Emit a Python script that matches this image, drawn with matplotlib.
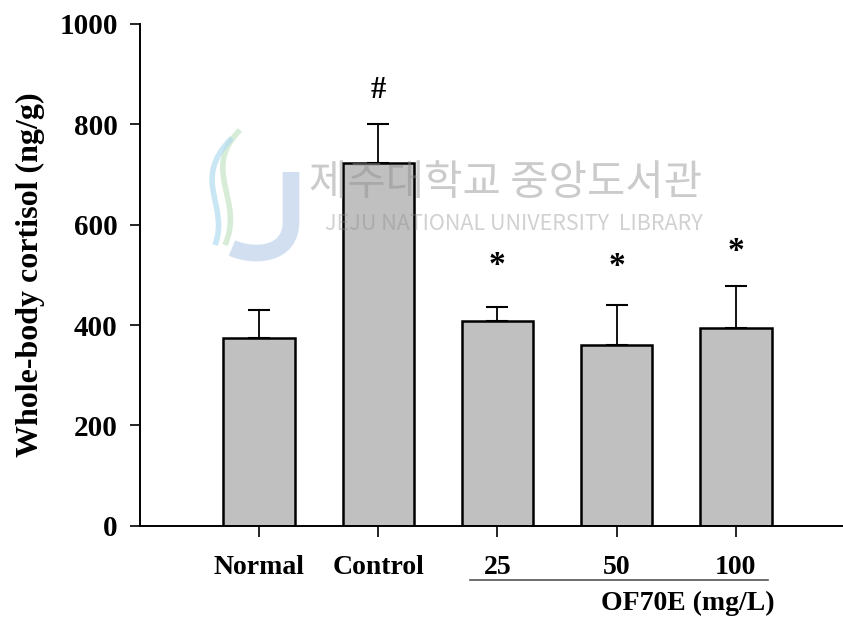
import matplotlib
matplotlib.use("Agg")
import matplotlib.pyplot as plt
from matplotlib.transforms import blended_transform_factory
from matplotlib.path import Path
from matplotlib.patches import PathPatch

# Whole-body cortisol by treatment group (mean + SE)
groups = ["Normal", "Control", "25", "50", "100"]
cortisol_mean = [374, 722, 409, 360, 395]
cortisol_se = [55, 78, 27, 80, 83]
marks = ["", "#", "*", "*", "*"]
mark_heights = [0, 868, 518, 516, 546]
y_ticks = [0, 200, 400, 600, 800, 1000]

serif = ["Liberation Serif", "DejaVu Serif"]
plt.rcParams["font.family"] = serif
plt.rcParams["font.weight"] = "bold"

fig = plt.figure(figsize=(8.43, 6.17), dpi=100)
ax = fig.add_axes([140 / 843, 1 - 525.7 / 617, 1 - 140 / 843, (525.7 - 24) / 617])

x = list(range(len(groups)))
ax.bar(x, cortisol_mean, width=0.6, color="#c0c0c0", edgecolor="black",
       linewidth=1.8, zorder=2)
ax.errorbar(x, cortisol_mean, yerr=[[0] * len(x), cortisol_se], fmt="none",
            ecolor="black", elinewidth=1.3, capsize=8, capthick=1.5, zorder=3)

for xi, m, h in zip(x, marks, mark_heights):
    if m:
        ax.text(xi, h, m, ha="center", va="center",
                fontsize=22 if m == "#" else 24, fontweight="bold", family=serif)

ax.set_xlim(-1, 4.9)
ax.set_ylim(0, 1000)
ax.set_yticks(y_ticks)
ax.set_xticks(x)
ax.set_xticklabels(groups)
ax.tick_params(axis="y", direction="out", length=7, width=1.2, labelsize=21, pad=9)
ax.tick_params(axis="x", direction="out", length=8, width=1.2, labelsize=20, pad=13)
for lab in ax.get_xticklabels() + ax.get_yticklabels():
    lab.set_fontweight("bold")

for side in ("top", "right"):
    ax.spines[side].set_visible(False)
for side in ("left", "bottom"):
    ax.spines[side].set_linewidth(1.4)

ax.set_ylabel("Whole-body cortisol (ng/g)", fontsize=23, fontweight="bold", labelpad=10)

# Dose group bracket and label
trans = blended_transform_factory(ax.transData, ax.transAxes)
ax.plot([1.77, 4.27], [-0.108, -0.108], color="#555555", linewidth=1.2,
        transform=trans, clip_on=False)
ax.text(4.33, -0.154, "OF70E (mg/L)", ha="right", va="center", fontsize=20,
        fontweight="bold", transform=trans)

# Library watermark: emblem strokes and name
px = fig.transFigure.inverted()


def to_fig(pts):
    return [tuple(px.transform((u, 617 - v))) for u, v in pts]


j_path = Path(to_fig([(291, 172), (291, 222), (291, 255), (255, 258), (232, 248)]),
              [Path.MOVETO, Path.LINETO, Path.CURVE4, Path.CURVE4, Path.CURVE4])
fig.patches.append(PathPatch(j_path, transform=fig.transFigure, fill=False,
                             edgecolor="#b3cbe9", linewidth=12, alpha=0.6))
for pts, col in [([(240, 130), (200, 170), (245, 200), (225, 245)], "#c6e4c6"),
                 ([(232, 138), (190, 180), (230, 205), (215, 245)], "#b3dcf0")]:
    path = Path(to_fig(pts), [Path.MOVETO, Path.CURVE4, Path.CURVE4, Path.CURVE4])
    fig.patches.append(PathPatch(path, transform=fig.transFigure, fill=False,
                                 edgecolor=col, linewidth=4, alpha=0.7))

fig.text(0.600, 1 - 183 / 617, "제주대학교 중앙도서관", ha="center", va="center",
         fontsize=30, color="#8c8c8c", alpha=0.45, fontweight="normal",
         family=["Noto Sans CJK KR"])
fig.text(0.610, 1 - 224 / 617, "JEJU NATIONAL UNIVERSITY  LIBRARY", ha="center",
         va="center", fontsize=15.5, color="#8c8c8c", alpha=0.4,
         family=["Noto Sans CJK KR"], fontweight="normal")

fig.savefig("out.png", dpi=100)
